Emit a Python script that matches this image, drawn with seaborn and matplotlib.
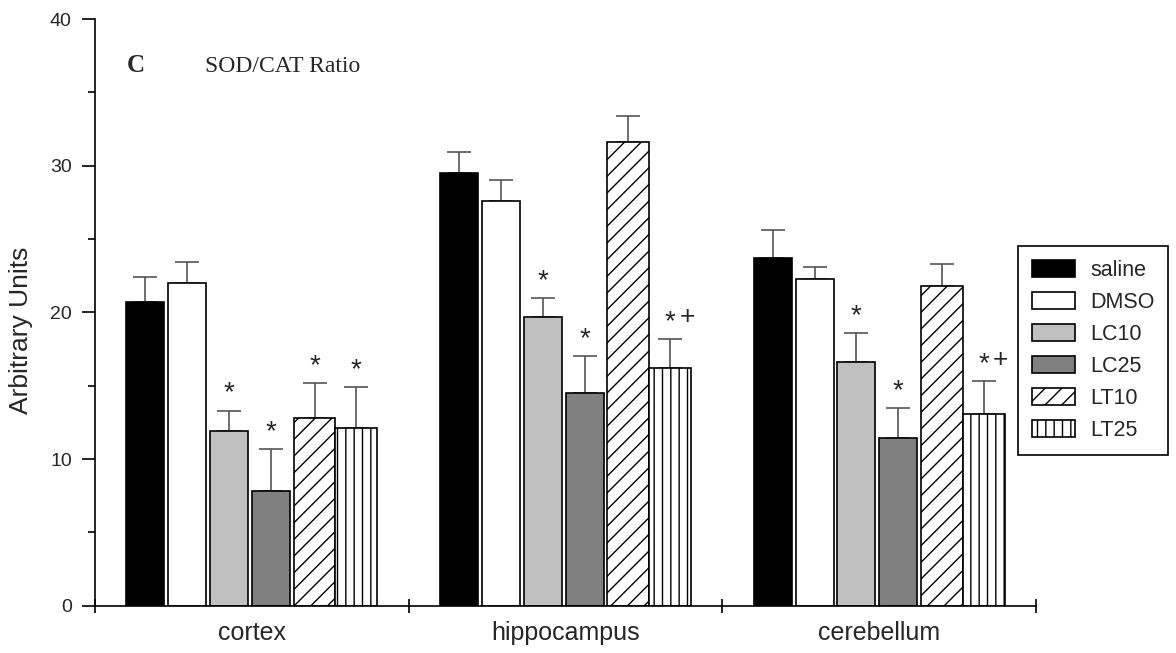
import numpy as np
import pandas as pd
import matplotlib
matplotlib.use("Agg")
import matplotlib.pyplot as plt
import seaborn as sns
from matplotlib.ticker import FixedLocator, NullFormatter

# ---- data -------------------------------------------------------------
regions = ["cortex", "hippocampus", "cerebellum"]
groups = ["saline", "DMSO", "LC10", "LC25", "LT10", "LT25"]

# mean SOD/CAT ratio per treatment group
cortex_mean = [20.7, 22.0, 11.9, 7.8, 12.8, 12.1]
hippocampus_mean = [29.5, 27.6, 19.7, 14.5, 31.6, 16.2]
cerebellum_mean = [23.7, 22.3, 16.6, 11.4, 21.8, 13.1]

# standard error of the mean (upper bars only)
cortex_sem = [1.7, 1.4, 1.4, 2.9, 2.4, 2.8]
hippocampus_sem = [1.4, 1.4, 1.3, 2.5, 1.8, 2.0]
cerebellum_sem = [1.9, 0.8, 2.0, 2.1, 1.5, 2.2]

# significance marks: "*" vs saline, "+" vs the matching LC dose
cortex_marks = ["", "", "*", "*", "*", "*"]
hippocampus_marks = ["", "", "*", "*", "", "*+"]
cerebellum_marks = ["", "", "*", "*", "", "*+"]

fill_colors = ["#000000", "#ffffff", "#c0c0c0", "#808080", "#ffffff", "#ffffff"]
hatches = ["", "", "", "", "//", "||"]

means = [cortex_mean, hippocampus_mean, cerebellum_mean]
sems = [cortex_sem, hippocampus_sem, cerebellum_sem]
marks = [cortex_marks, hippocampus_marks, cerebellum_marks]

df = pd.DataFrame(
    [(r, g, means[ri][gi]) for ri, r in enumerate(regions) for gi, g in enumerate(groups)],
    columns=["region", "group", "value"],
)

# ---- style --------------------------------------------------------------
sns.set_style("ticks")
plt.rcParams["font.family"] = ["Liberation Sans", "DejaVu Sans"]
plt.rcParams["hatch.linewidth"] = 1.0
plt.rcParams["axes.linewidth"] = 1.2

W, H = 1176, 653
fig = plt.figure(figsize=(W / 100, H / 100), dpi=100)
ax = fig.add_axes([95 / W, 1 - 605.7 / H, (1036 - 95) / W, (605.7 - 19) / H])

sns.barplot(
    data=df, x="region", y="value", hue="group",
    order=regions, hue_order=groups, palette=fill_colors, saturation=1,
    width=0.8, gap=0, errorbar=None, edgecolor="black", linewidth=1.2,
    legend=False, ax=ax,
)
bar_sets = list(ax.containers)

# solid bars are narrower and sit at the left of their slot; hatched bars fill it
for gi, cont in enumerate(bar_sets):
    for p in cont.patches:
        p.set_zorder(2)
        if hatches[gi]:
            p.set_hatch(hatches[gi])
        else:
            p.set_width(p.get_width() * 0.91)

# error bars and significance marks
for gi, cont in enumerate(bar_sets):
    xs, ys, errs = [], [], []
    for p in cont.patches:
        cx = p.get_x() + p.get_width() / 2
        ri = int(round(cx))
        xs.append(cx)
        ys.append(p.get_height())
        errs.append(sems[ri][gi])
        top = p.get_height() + sems[ri][gi]
        m = marks[ri][gi]
        if "*" in m:
            ax.text(cx, top + 0.68, "*", ha="center", va="baseline", fontsize=20)
        if "+" in m:
            ax.text(cx + 0.054, top + 1.0, "+", ha="center", va="baseline", fontsize=19)
    ax.errorbar(xs, ys, yerr=[np.zeros(len(errs)), errs], fmt="none",
                ecolor="#555555", elinewidth=1.2, capsize=8.9, capthick=1.2, zorder=1)

# ---- axes ---------------------------------------------------------------
ax.set_xlim(-0.5, 2.5)
ax.set_ylim(0, 40)
ax.set_yticks([0, 10, 20, 30, 40])
ax.yaxis.set_minor_locator(FixedLocator([5, 15, 25, 35]))
ax.tick_params(axis="y", which="major", direction="out", length=9.1, width=1.2,
               pad=7.6, labelsize=14, color="black")
ax.tick_params(axis="y", which="minor", direction="out", length=4.8, width=1.2, color="black")

ax.set_xticks([-0.5, 0.5, 1.5, 2.5])
ax.xaxis.set_major_formatter(NullFormatter())
ax.set_xticks([0, 1, 2], minor=True)
ax.set_xticklabels(regions, minor=True)
ax.tick_params(axis="x", which="major", direction="inout", length=9.4, width=1.2, color="black")
ax.tick_params(axis="x", which="minor", direction="in", length=2, width=1.0,
               labelsize=18, pad=10.8, color="black")

ax.set_xlabel("")
ax.set_ylabel("Arbitrary Units", fontsize=19)
ax.yaxis.set_label_coords((33 - 95) / 941, (605.7 - 330) / 586.7)
sns.despine(ax=ax)
for s in ("left", "bottom"):
    ax.spines[s].set_color("black")
    ax.spines[s].set_linewidth(1.2)

# panel letter and title
fig.text(126.7 / W, 1 - 72 / H, "C", fontsize=18, fontweight="bold",
         family="Liberation Serif", ha="left", va="baseline")
fig.text(205 / W, 1 - 72 / H, "SOD/CAT Ratio", fontsize=17,
         family="Liberation Serif", ha="left", va="baseline")

# legend
leg = ax.legend(
    handles=bar_sets, labels=groups, loc="upper left",
    bbox_to_anchor=(1018 / W, 1 - 246 / H), bbox_transform=fig.transFigure,
    frameon=True, fancybox=False, edgecolor="black", framealpha=1,
    fontsize=15.5, handlelength=2.0, handleheight=0.87, handletextpad=0.7,
    labelspacing=0.5, borderpad=0.65, borderaxespad=0,
)
leg.get_frame().set_linewidth(1.2)

fig.savefig("out.png", dpi=100)
